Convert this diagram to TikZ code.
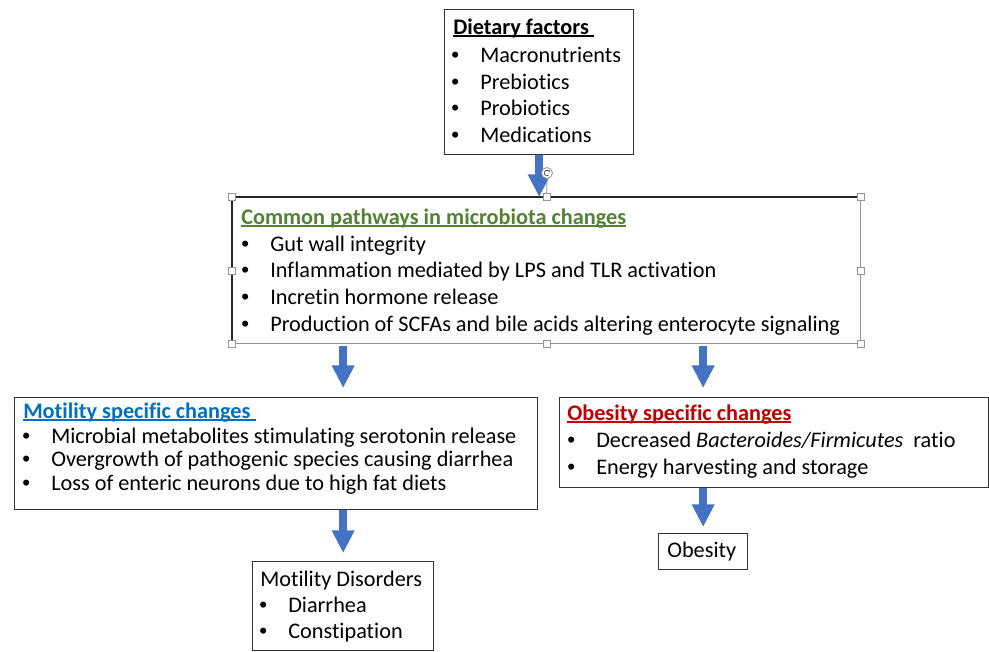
\documentclass[tikz,border=0pt]{standalone}
\usepackage{fontspec}
\setmainfont{Carlito}[Ligatures=NoCommon]
\newfontfamily\bulfont{Liberation Sans}
\usetikzlibrary{arrows.meta}
\definecolor{arrowblue}{RGB}{68,114,196}
\definecolor{titlegreen}{RGB}{84,130,53}
\definecolor{titleblue}{RGB}{0,112,192}
\definecolor{titlered}{RGB}{192,0,0}
\definecolor{selgray}{RGB}{150,150,150}
\newcommand{\ulin}[1]{\setbox0=\hbox{#1}\rlap{\raisebox{-2.1pt}{\rule{\wd0}{1.1pt}}}\box0}
\newcommand{\bul}{\makebox[0pt][c]{\bulfont •}\hspace{18.75pt}}
\begin{document}
\begin{tikzpicture}[x=0.75pt,y=-0.75pt,
  boxed/.style={draw=black!80, line width=1pt, anchor=north west, inner sep=0pt},
  txt/.style={anchor=base west, inner sep=0pt, font=\fontsize{16.7}{20}\selectfont},
  ttl/.style={txt, font=\fontsize{16.7}{20}\selectfont\bfseries},
  barrow/.style={draw=arrowblue, line width=6pt, -{Triangle[width=16pt,length=17pt]}},
  handle/.style={draw=selgray, fill=white, line width=0.6pt, minimum size=5.25pt, inner sep=0pt}]
\fill[white] (0,0) rectangle (989,651);
\useasboundingbox (0,0) rectangle (989,651);

% boxes
\node[boxed, minimum width=141.75pt, minimum height=108.75pt] (diet) at (444,9) {};
\node[boxed, draw=selgray, line width=0.8pt, minimum width=471pt, minimum height=109.5pt] (common) at (232,197) {};
\draw[black!85, line width=1.2pt] (common.south west) -- (common.north west) -- (common.north east);
\node[boxed, minimum width=392.25pt, minimum height=84pt] (motil) at (14,397) {};
\node[boxed, minimum width=321.75pt, minimum height=67.5pt] (obes) at (559,397) {};
\node[boxed, minimum width=135.75pt, minimum height=66.75pt] (disord) at (252,561) {};
\node[boxed, minimum width=66.75pt, minimum height=27pt] (obesity) at (658,533) {};

% dietary factors
\node[ttl] (dietT) at (453,34) {\ulin{Dietary factors\hspace{4pt}}};
\node[txt] (diet1) at (455,62) {\bul Macronutrients};
\node[txt] (diet2) at (455,89) {\bul Prebiotics};
\node[txt] (diet3) at (455,115) {\bul Probiotics};
\node[txt] (diet4) at (455,142) {\bul Medications};

% common pathways
\node[ttl, text=titlegreen] (comT) at (241,224) {\ulin{Common pathways in microbiota changes}};
\node[txt] (com1) at (245,251) {\bul Gut wall integrity};
\node[txt] (com2) at (245,277) {\bul Inflammation mediated by LPS and TLR activation};
\node[txt] (com3) at (245,304) {\bul Incretin hormone release};
\node[txt] (com4) at (245,331) {\bul Production of SCFAs and bile acids altering enterocyte signaling};

% motility specific
\node[ttl, text=titleblue] (motT) at (23,418) {\ulin{Motility specific changes\hspace{4pt}}};
\node[txt] (mot1) at (26,443) {\bul Microbial metabolites stimulating serotonin release};
\node[txt] (mot2) at (26,466) {\bul Overgrowth of pathogenic species causing diarrhea};
\node[txt] (mot3) at (26,490) {\bul Loss of enteric neurons due to high fat diets};

% obesity specific
\node[ttl, text=titlered] (obT) at (567,420) {\ulin{Obesity specific changes}};
\node[txt] (ob1) at (571,447) {\bul Decreased \textit{Bacteroides/Firmicutes}\ \ ratio};
\node[txt] (ob2) at (571,474) {\bul Energy harvesting and storage};

% outcomes
\node[txt] (disT) at (260,586) {Motility Disorders};
\node[txt] (dis1) at (263,612) {\bul Diarrhea};
\node[txt] (dis2) at (263,638) {\bul Constipation};
\node[txt] (obesT) at (667,557) {Obesity};

% arrows
\draw[barrow] (diet.south) -- (diet.south |- common.north);
\draw[barrow, shorten <=1.5pt, shorten >=6.75pt] (disord.north |- common.south) -- (disord.north |- motil.north);
\draw[barrow, shorten <=1.5pt, shorten >=6.75pt] (obesity.north |- common.south) -- (obesity.north |- obes.north);
\draw[barrow, shorten >=6pt] (disord.north |- motil.south) -- (disord.north);
\draw[barrow, shorten >=4.5pt] (obesity.north |- obes.south) -- (obesity.north);

% selection handles
\node[draw=selgray, fill=white, circle, line width=0.6pt, minimum size=8.25pt, inner sep=0pt] (rot) at (547,173) {};
\draw[selgray, line width=0.6pt] (rot.south) -- (common.north);
\draw[black!70, line width=0.5pt, -{Stealth[length=1.4pt,width=1.6pt]}] ([shift={(300:2.1pt)}]rot.center) arc[start angle=300, end angle=20, radius=2.1pt];
\node[handle] (hnw) at (common.north west) {};
\node[handle] (hn) at (common.north) {};
\node[handle] (hne) at (common.north east) {};
\node[handle] (hw) at (common.west) {};
\node[handle] (he) at (common.east) {};
\node[handle] (hsw) at (common.south west) {};
\node[handle] (hs) at (common.south) {};
\node[handle] (hse) at (common.south east) {};
\end{tikzpicture}
\end{document}
